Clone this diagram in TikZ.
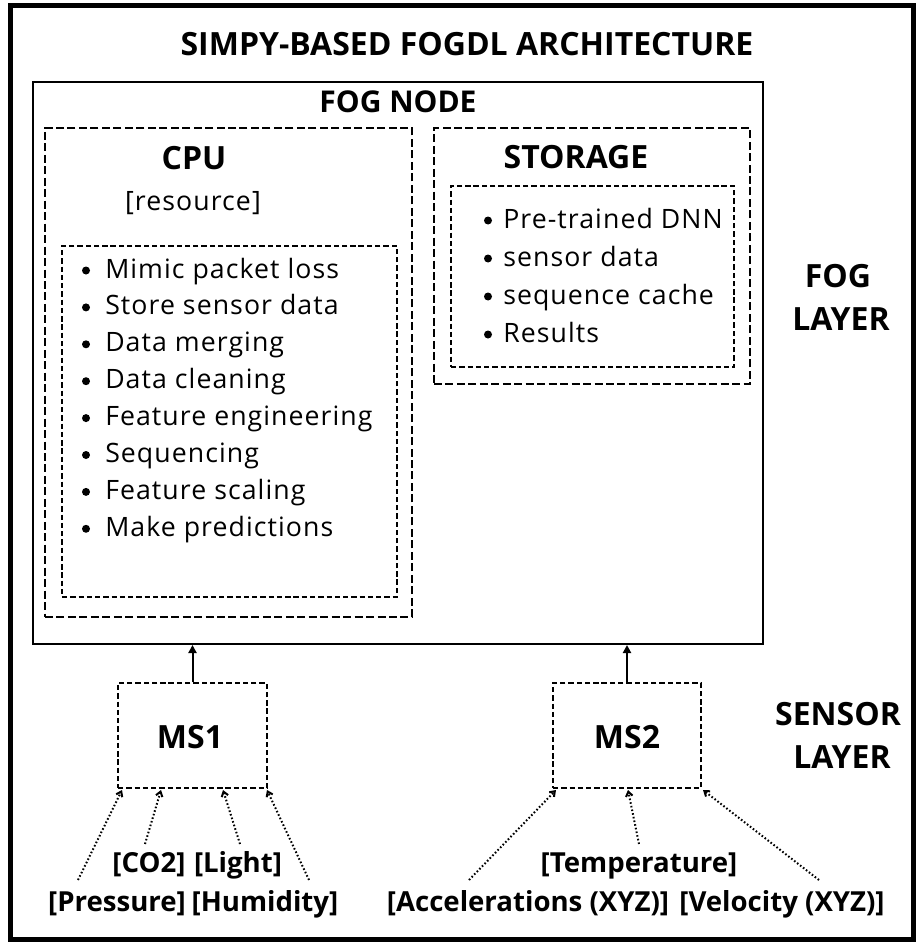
\documentclass[tikz,border=0pt]{standalone}
\usepackage{fontspec}
\setmainfont{Open Sans}
\newfontfamily\bodyfont[LetterSpace=4]{Open Sans}
\usetikzlibrary{arrows.meta,fit}
\begin{document}
\begin{tikzpicture}[x=0.75pt,y=-0.75pt,
  outerbox/.style={draw, line width=3.75pt},
  fogbox/.style={draw, line width=1.5pt, inner sep=0pt},
  dbox/.style={draw, line width=1.4pt, dash pattern=on 6pt off 2.6pt, inner sep=0pt},
  dboxin/.style={draw, line width=1.1pt, dash pattern=on 4pt off 2.2pt, inner sep=0pt},
  item/.style={anchor=base west, inner sep=0pt, font=\bodyfont\fontsize{20}{24}\selectfont},
  bul/.style={fill=black},
  titlefont/.style={inner sep=0pt, anchor=base, font=\bfseries\fontsize{24}{28}\selectfont},
  lbl/.style={inner sep=0pt, anchor=base, font=\bfseries\fontsize{24}{28}\selectfont},
  slbl/.style={inner sep=0pt, anchor=base, font=\bfseries\fontsize{20.7}{24}\selectfont},
  solidarrow/.style={line width=1.5pt, -{Triangle[length=6pt,width=6pt]}},
  dotarrow/.style={line width=1.5pt, dash pattern=on 1.2pt off 1.6pt, -{Straight Barb[length=3.5pt,width=5pt]}}
]
\useasboundingbox (0,0) rectangle (916,942);
% outer frame
\coordinate (o1) at (10.5,5.5);
\coordinate (o2) at (913.5,939.5);
\node[outerbox, inner sep=0pt, fit=(o1)(o2)] (frame) {};
\node[titlefont] (title) at (467,56) {SIMPY-BASED FOGDL ARCHITECTURE};

% fog node
\coordinate (f1) at (33,82);
\coordinate (f2) at (763,644);
\node[fogbox, fit=(f1)(f2)] (fog) {};
\node[inner sep=0pt, anchor=base, font=\bfseries\fontsize{22.5}{26}\selectfont] (fogtitle) at (398,113) {FOG NODE};

% CPU box
\coordinate (c1) at (45,128);
\coordinate (c2) at (412,617);
\node[dbox, fit=(c1)(c2)] (cpu) {};
\node[lbl] (cputitle) at (194,169) {CPU};
\node[item, anchor=base] (res) at (193,210) {[resource]};
\coordinate (ci1) at (62,246);
\coordinate (ci2) at (397,597);
\node[dboxin, fit=(ci1)(ci2)] (cpuin) {};
\foreach \t [count=\i] in {Mimic packet loss, Store sensor data, Data merging, Data cleaning, Feature engineering, Sequencing, Feature scaling, Make predictions}{
  \pgfmathsetmacro{\yy}{278+36.9*(\i-1)}
  \fill[bul] (86,\yy-7.5) circle[radius=3pt];
  \node[item] (cpuitem\i) at (105,\yy) {\t};
}

% storage box
\coordinate (s1) at (434,128);
\coordinate (s2) at (750,384);
\node[dbox, fit=(s1)(s2)] (stor) {};
\node[lbl] (stortitle) at (576,168) {STORAGE};
\coordinate (si1) at (451,186);
\coordinate (si2) at (734,367);
\node[dboxin, fit=(si1)(si2)] (storin) {};
\foreach \t [count=\i] in {Pre-trained DNN, sensor data, sequence cache, Results}{
  \pgfmathsetmacro{\yy}{228+38*(\i-1)}
  \fill[bul] (488,\yy-7.5) circle[radius=3pt];
  \node[item] (storitem\i) at (503,\yy) {\t};
}

% layer labels
\node[lbl] (fogl1) at (838,287) {FOG};
\node[lbl] (fogl2) at (841,330) {LAYER};
\node[lbl] (senl1) at (838,725) {SENSOR};
\node[lbl] (senl2) at (842,768) {LAYER};

% sensors
\coordinate (m1a) at (118,683);
\coordinate (m1b) at (267,788);
\node[dboxin, fit=(m1a)(m1b)] (ms1) {};
\node[lbl] (ms1t) at (190,748) {MS1};
\coordinate (m2a) at (553,683);
\coordinate (m2b) at (701,788);
\node[dboxin, fit=(m2a)(m2b)] (ms2) {};
\node[lbl] (ms2t) at (627,748) {MS2};

\draw[solidarrow] (ms1.north) -- (ms1.north |- fog.south);
\draw[solidarrow] (ms2.north) -- (ms2.north |- fog.south);

% sensor labels
\node[slbl] (co2) at (149,872) {[CO2]};
\node[slbl] (light) at (238,872) {[Light]};
\node[slbl] (press) at (117,911) {[Pressure]};
\node[slbl] (humid) at (265,911) {[Humidity]};
\node[slbl] (temp) at (639,872) {[Temperature]};
\node[slbl] (acc) at (528,911) {[Accelerations (XYZ)]};
\node[slbl] (vel) at (782,911) {[Velocity (XYZ)]};

% dotted inputs
\coordinate (p1s) at (78,880);   \coordinate (p1e) at (122,790);
\coordinate (p2s) at (145,844);  \coordinate (p2e) at (161,790);
\coordinate (p3s) at (240,844);  \coordinate (p3e) at (223,790);
\coordinate (p4s) at (309,880);  \coordinate (p4e) at (267,790);
\coordinate (q1s) at (469,880);  \coordinate (q1e) at (556,790);
\coordinate (q2s) at (639,844);  \coordinate (q2e) at (628,790);
\coordinate (q3s) at (819,880);  \coordinate (q3e) at (703,790);
\foreach \a in {p1,p2,p3,p4,q1,q2,q3}{
  \draw[dotarrow] (\a s) -- (\a e);
}
\end{tikzpicture}
\end{document}
